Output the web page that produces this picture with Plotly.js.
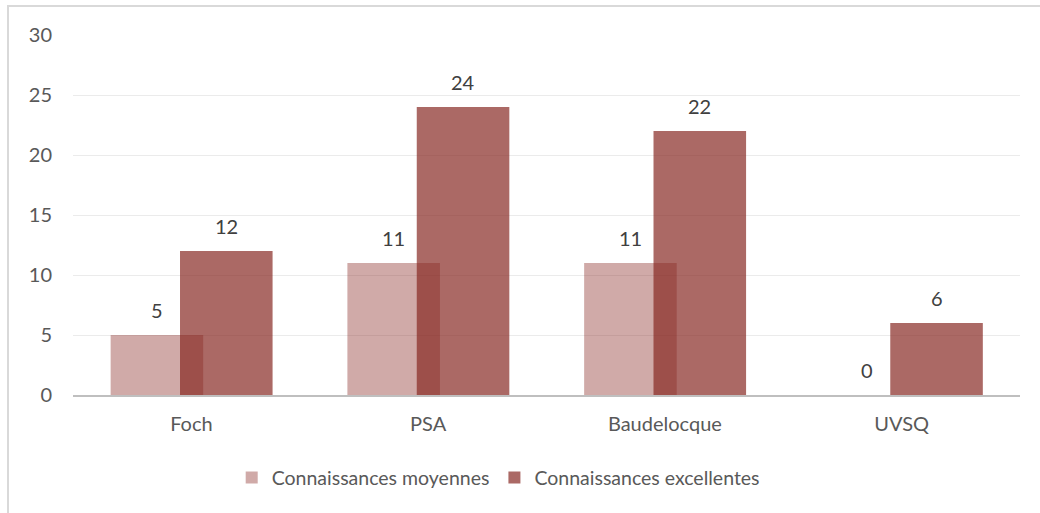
<!DOCTYPE html>
<html>
<head>
<meta charset="utf-8">
<script src="https://cdn.plot.ly/plotly-3.0.1.min.js"></script>
<style>
html,body{margin:0;padding:0;background:#fff;}
#wrap{position:relative;width:1040px;height:513px;overflow:hidden;}
#chart{width:1040px;height:513px;}
#frame{position:absolute;left:7px;top:5px;width:1100px;height:600px;border:2px solid #d9d9d9;pointer-events:none;box-sizing:border-box;}
</style>
</head>
<body>
<div id="wrap">
<div id="chart"></div>
<div id="frame"></div>
</div>
<script>
const categories = ["Foch", "PSA", "Baudelocque", "UVSQ"];
const moyennes = [5, 11, 11, 0];
const excellentes = [12, 24, 22, 6];
const seriesNames = ["Connaissances moyennes", "Connaissances excellentes"];
const yTicks = [0, 5, 10, 15, 20, 25, 30];

const barWidth = 0.391;
const offsets = [-0.341, -0.048];
const colors = ["rgba(133,37,32,0.39)", "rgba(133,37,32,0.69)"];
const FONT = "Lato, 'Open Sans', sans-serif";
const FS = 20;

const series = [moyennes, excellentes];
const traces = series.map((vals, i) => ({
  type: "bar",
  name: seriesNames[i],
  x: categories,
  y: vals,
  width: vals.map(() => barWidth),
  offset: vals.map(() => offsets[i]),
  marker: {color: colors[i], line: {width: 0}},
  hoverinfo: "x+y"
}));

const annotations = [];
series.forEach((vals, i) => {
  vals.forEach((v, j) => {
    annotations.push({
      xref: "x", yref: "y",
      x: j + offsets[i] + barWidth / 2,
      y: v,
      text: String(v),
      showarrow: false,
      yanchor: "middle",
      yshift: 25,
      font: {family: FONT, size: FS, color: "#404040"}
    });
  });
});

const layout = {
  width: 1040, height: 513,
  margin: {l: 73, r: 20, t: 35, b: 118},
  paper_bgcolor: "#ffffff",
  plot_bgcolor: "#ffffff",
  barmode: "overlay",
  showlegend: true,
  font: {family: FONT, size: FS, color: "#595959"},
  xaxis: {
    type: "category",
    showgrid: false,
    showline: true,
    linecolor: "#bfbfbf",
    linewidth: 2,
    ticks: "",
    ticklabelstandoff: 10,
    tickfont: {family: FONT, size: FS, color: "#595959"},
    fixedrange: true
  },
  yaxis: {
    range: [0, 30],
    tickvals: yTicks,
    ticktext: yTicks.map(String),
    showgrid: true,
    gridcolor: "#ebebeb",
    gridwidth: 1,
    zeroline: false,
    showline: false,
    ticks: "",
    ticklabelstandoff: 20,
    tickfont: {family: FONT, size: FS, color: "#595959"},
    fixedrange: true
  },
  legend: {
    orientation: "h",
    x: 0.449, xanchor: "center",
    y: -0.23, yanchor: "middle",
    font: {family: FONT, size: 19.5, color: "#595959"},
    traceorder: "normal",
    itemwidth: 30
  },
  annotations: annotations
};

Plotly.newPlot("chart", traces, layout, {displayModeBar: false, staticPlot: true});
</script>
</body>
</html>
